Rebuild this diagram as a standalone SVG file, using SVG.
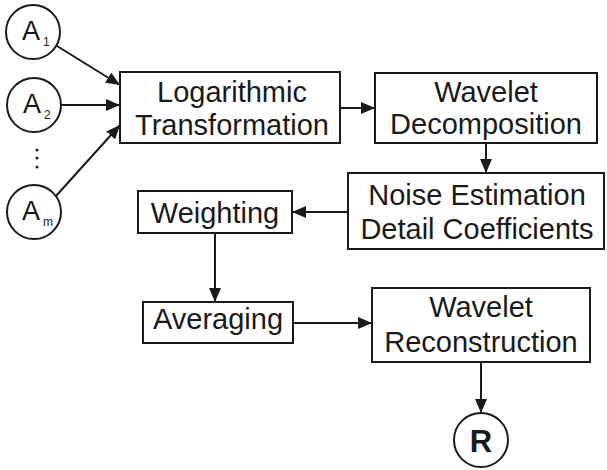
<svg xmlns="http://www.w3.org/2000/svg" width="607" height="470" viewBox="0 0 607 470">
<style>
.box{fill:#fff;stroke:#1a1a1a;stroke-width:2}
.t{font-family:"Liberation Sans",Arial,sans-serif;font-size:29px;fill:#1a1a1a;text-anchor:middle}
.a{font-family:"Liberation Sans",Arial,sans-serif;font-size:27px;fill:#1a1a1a}
.s{font-family:"Liberation Sans",Arial,sans-serif;font-size:12px;fill:#1a1a1a}
.c{stroke:#1a1a1a;stroke-width:2;fill:none}
</style>
<defs>
<marker id="ah" markerWidth="14" markerHeight="12" refX="14" refY="6" orient="auto" markerUnits="userSpaceOnUse">
<path d="M0,0 L14,6 L0,12 z" fill="#1a1a1a"/>
</marker>
</defs>
<rect width="607" height="470" fill="#fff"/>
<g id="connectors">
<line class="c" x1="57" y1="46" x2="120" y2="85" marker-end="url(#ah)"/>
<line class="c" x1="61" y1="105" x2="120" y2="105" marker-end="url(#ah)"/>
<line class="c" x1="56" y1="196" x2="120" y2="125" marker-end="url(#ah)"/>
<line class="c" x1="340" y1="108" x2="375" y2="108" marker-end="url(#ah)"/>
<line class="c" x1="486" y1="143" x2="486" y2="173" marker-end="url(#ah)"/>
<line class="c" x1="348" y1="212" x2="292" y2="212" marker-end="url(#ah)"/>
<line class="c" x1="215" y1="233" x2="215" y2="302" marker-end="url(#ah)"/>
<line class="c" x1="293" y1="323" x2="372" y2="323" marker-end="url(#ah)"/>
<line class="c" x1="481" y1="362" x2="481" y2="413" marker-end="url(#ah)"/>
</g>
<g id="A1">
<circle class="c" cx="33" cy="32" r="27"/>
<text class="a" x="22" y="40">A</text><text class="s" x="43" y="46">1</text>
</g>
<g id="A2">
<circle class="c" cx="34" cy="105" r="27"/>
<text class="a" x="23" y="113">A</text><text class="s" x="44" y="119">2</text>
</g>
<g id="dots" fill="#1a1a1a">
<circle cx="37" cy="150" r="1.5"/><circle cx="37" cy="158" r="1.5"/><circle cx="37" cy="167" r="1.5"/>
</g>
<g id="Am">
<circle class="c" cx="34" cy="212" r="27"/>
<text class="a" x="22" y="220">A</text><text class="s" x="43" y="226">m</text>
</g>
<g id="log">
<rect class="box" x="120" y="72" width="220" height="71"/>
<text class="t" x="232" y="102">Logarithmic</text>
<text class="t" x="232" y="135">Transformation</text>
</g>
<g id="decomp">
<rect class="box" x="375" y="73" width="222" height="70"/>
<text class="t" x="486" y="102">Wavelet</text>
<text class="t" x="486" y="134">Decomposition</text>
</g>
<g id="noise">
<rect class="box" x="348" y="173" width="256" height="76"/>
<text class="t" x="477" y="205">Noise Estimation</text>
<text class="t" x="477" y="239">Detail Coefficients</text>
</g>
<g id="weighting">
<rect class="box" x="138" y="191" width="154" height="42"/>
<text class="t" x="215" y="223">Weighting</text>
</g>
<g id="averaging">
<rect class="box" x="143" y="302" width="150" height="41"/>
<text class="t" x="218" y="329">Averaging</text>
</g>
<g id="recon">
<rect class="box" x="372" y="288" width="218" height="74"/>
<text class="t" x="481" y="317">Wavelet</text>
<text class="t" x="481" y="352">Reconstruction</text>
</g>
<g id="R">
<circle class="c" cx="481" cy="440" r="27"/>
<text x="481" y="452" style="font-family:'Liberation Sans',Arial,sans-serif;font-size:31px;font-weight:bold;fill:#1a1a1a;text-anchor:middle">R</text>
</g>
</svg>
